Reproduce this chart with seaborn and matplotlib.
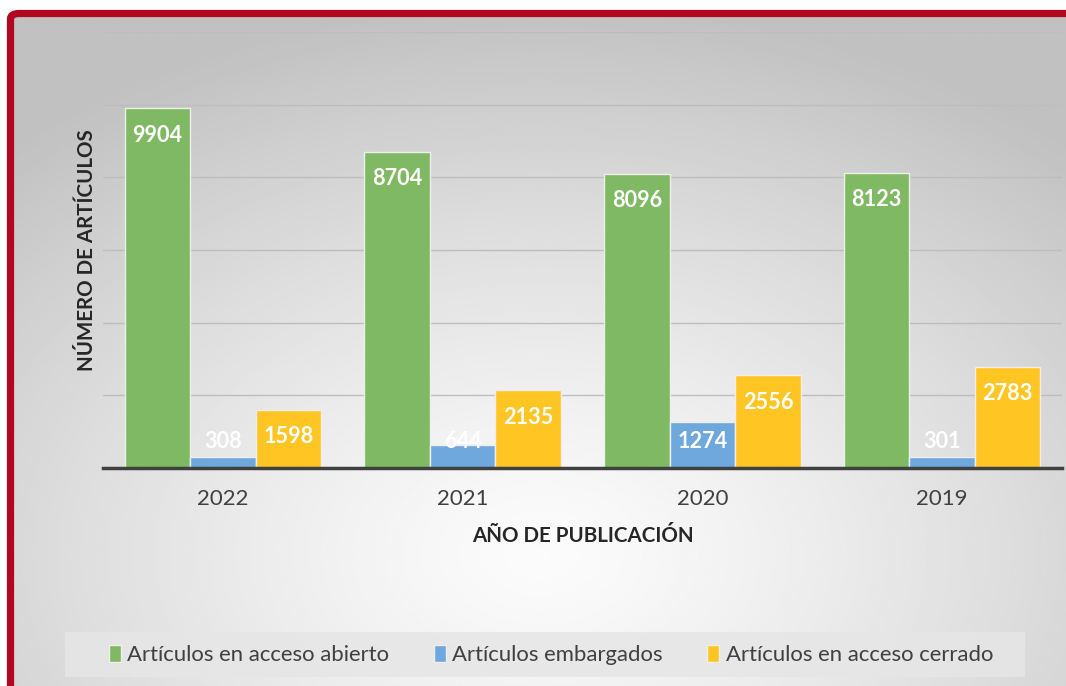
import numpy as np
import pandas as pd
import matplotlib.pyplot as plt
import seaborn as sns
from matplotlib.patches import FancyBboxPatch, Rectangle

# data
years = ['2022', '2021', '2020', '2019']
abierto = [9904, 8704, 8096, 8123]
embargados = [308, 644, 1274, 301]
cerrado = [1598, 2135, 2556, 2783]
series = ['Artículos en acceso abierto', 'Artículos embargados', 'Artículos en acceso cerrado']
colors = ['#80b963', '#6fa8dc', '#ffc523']

df = pd.DataFrame({
    'year': years * 3,
    'value': abierto + embargados + cerrado,
    'serie': [series[0]] * 4 + [series[1]] * 4 + [series[2]] * 4,
})

sns.set_theme(style='white')
plt.rcParams['font.family'] = ['Lato', 'DejaVu Sans']

fig = plt.figure(figsize=(10.66, 6.86), dpi=100)
W, H = 1066, 686

# radial gradient background inside the red frame
bg = fig.add_axes([14 / W, 0, 1 - 14 / W, 1 - 17 / H], zorder=-10)
yy, xx = np.mgrid[0:300, 0:500]
cx, cy = 250, 240
d = np.sqrt(((xx - cx) / 500) ** 2 + ((yy - cy) / 330) ** 2)
val = 0.985 - 0.23 * np.clip(d / 0.75, 0, 1) ** 1.3
bg.imshow(val, cmap='gray', vmin=0, vmax=1, aspect='auto', origin='upper',
          extent=[0, 1, 0, 1], interpolation='bilinear')
bg.axis('off')

# red frame (top and left visible)
frame = FancyBboxPatch((10.5 / W, -0.2), 1.2, 1 - 13.5 / H + 0.2,
                       boxstyle='round,pad=0,rounding_size=0.008',
                       transform=fig.transFigure, fill=False,
                       edgecolor='#b0081f', linewidth=5.2, zorder=5)
fig.patches.append(frame)

# legend background box
fig.patches.append(Rectangle((65 / W, 1 - 677 / H), 960 / W, 45 / H, transform=fig.transFigure,
                             facecolor='#e6e6e6', alpha=0.85, edgecolor='none', zorder=1))

ax = fig.add_axes([103 / W, 1 - 468 / H, 959 / W, 436 / H])
ax.patch.set_alpha(0)
sns.barplot(data=df, x='year', y='value', hue='serie', order=years,
            hue_order=series, palette=colors, width=0.82,
            edgecolor='#eeeeee', linewidth=1, saturation=1, ax=ax, legend=False)

ax.set_ylim(0, 12000)
ax.set_yticks(range(2000, 12001, 2000))
ax.yaxis.grid(True, color='#bdbdbd', linewidth=1)
ax.set_axisbelow(True)
ax.set_yticklabels([])
ax.tick_params(axis='y', length=0)
ax.tick_params(axis='x', length=0, labelsize=16, labelcolor='#404040', pad=15)
for s in ['top', 'right', 'left']:
    ax.spines[s].set_visible(False)
ax.spines['bottom'].set_color('#404040')
ax.spines['bottom'].set_linewidth(2.5)

ax.set_xlabel('AÑO DE PUBLICACIÓN', fontsize=14.8, fontweight='bold', color='#262626', labelpad=12)
ax.set_ylabel('NÚMERO DE ARTÍCULOS', fontsize=14.8, fontweight='bold', color='#262626')
ax.yaxis.set_label_coords(-0.006, 0.50)

# value labels inside end, clamped near base
for cont in ax.containers:
    for bar in cont:
        v = bar.get_height()
        y = max(v - 740, 740)
        ax.text(bar.get_x() + bar.get_width() / 2, y, f'{int(v)}', ha='center', va='center',
                color='white', fontsize=15.6, fontweight='bold', zorder=6)

# legend
handles = [plt.Rectangle((0, 0), 1, 1, facecolor=c, edgecolor='#eeeeee') for c in colors]
leg = fig.legend(handles, series, loc='center', bbox_to_anchor=(551 / W, 1 - 655 / H),
                 ncol=3, frameon=False, fontsize=15.9, handlelength=0.55, handleheight=0.8,
                 handletextpad=0.3, columnspacing=2.0, borderpad=0, borderaxespad=0,
                 labelcolor='#404040')

fig.savefig('out.png', dpi=100)
